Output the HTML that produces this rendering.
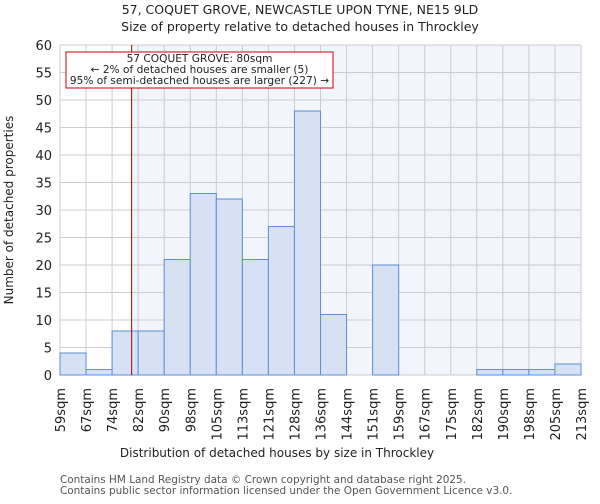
<!DOCTYPE html>
<html><head><meta charset="utf-8"><style>
body{margin:0;background:#fff;font-family:"DejaVu Sans","Liberation Sans",sans-serif}
</style></head><body>
<svg width="600" height="500" xmlns="http://www.w3.org/2000/svg" font-family="DejaVu Sans, Liberation Sans, sans-serif">
<text x="300" y="14" text-anchor="middle" font-size="12.5" fill="#222">57, COQUET GROVE, NEWCASTLE UPON TYNE, NE15 9LD</text>
<text x="300" y="31" text-anchor="middle" font-size="12.5" fill="#222">Size of property relative to detached houses in Throckley</text>
<g id="plot"></g>
<text x="277" y="457" text-anchor="middle" font-size="12" fill="#222">Distribution of detached houses by size in Throckley</text>
<text transform="translate(13,210) rotate(-90)" text-anchor="middle" font-size="12" fill="#222">Number of detached properties</text>
<text x="60" y="483" font-size="10.45" fill="#555">Contains HM Land Registry data © Crown copyright and database right 2025.</text>
<text x="60" y="494" font-size="10.45" fill="#555">Contains public sector information licensed under the Open Government Licence v3.0.</text>
</svg>
<script>
const categories=["59sqm","67sqm","74sqm","82sqm","90sqm","98sqm","105sqm","113sqm","121sqm","128sqm","136sqm","144sqm","151sqm","159sqm","167sqm","175sqm","182sqm","190sqm","198sqm","205sqm","213sqm"];
const counts=[4,1,8,8,21,33,32,21,27,48,11,0,20,0,0,0,1,1,1,2];
const yTicks=[0,5,10,15,20,25,30,35,40,45,50,55,60];
const propertyBin=2.75;
const NS="http://www.w3.org/2000/svg";
const L=60,R=581,T=45,B=375,yMax=60;
const bw=(R-L)/counts.length;
const x=i=>L+i*bw;
const y=v=>B-(v/yMax)*(B-T);
const g=document.getElementById('plot');
function mk(t,a){const e=document.createElementNS(NS,t);for(const k in a)e.setAttribute(k,a[k]);g.appendChild(e);return e;}
const px=x(propertyBin);
let e=mk('rect',{x:px,y:T,width:R-px,height:B-T,fill:'#f3f5fd'});


yTicks.forEach(v=>{
 let l=mk('line',{x1:L,x2:R,y1:y(v),y2:y(v),stroke:'#ccc','stroke-width':1});
 
 
 let t=mk('text',{x:L-8,y:y(v)+5,'text-anchor':'end','font-size':13,fill:'#222'});
 t.textContent=v;
 
 
});
categories.forEach((c,i)=>{
 let l=mk('line',{x1:x(i),x2:x(i),y1:T,y2:B,stroke:'#ccc','stroke-width':1});
 
 
 let t=mk('text',{transform:`translate(${x(i)+5},388) rotate(-90)`,'text-anchor':'end','font-size':13,fill:'#222'});
 t.textContent=c;
 
 
});
counts.forEach((v,i)=>{
 if(v<=0)return;
 let r=mk('rect',{x:x(i),y:y(v),width:bw,height:B-y(v),fill:'#d6e1f3',stroke:'#5b8fd6','stroke-width':1});
 
 
});
let pl=mk('line',{x1:px,x2:px,y1:T,y2:B,stroke:'#a00','stroke-width':1});


let bx=mk('rect',{x:66,y:52,width:267,height:36,fill:'#fff',stroke:'#c00','stroke-width':1});


["57 COQUET GROVE: 80sqm","← 2% of detached houses are smaller (5)","95% of semi-detached houses are larger (227) →"].forEach((s,i)=>{
 let t=mk('text',{x:199.5,y:62+i*11,'text-anchor':'middle','font-size':10.6,fill:'#222'});
 t.textContent=s;
 
 
});
</script>
</body></html>
